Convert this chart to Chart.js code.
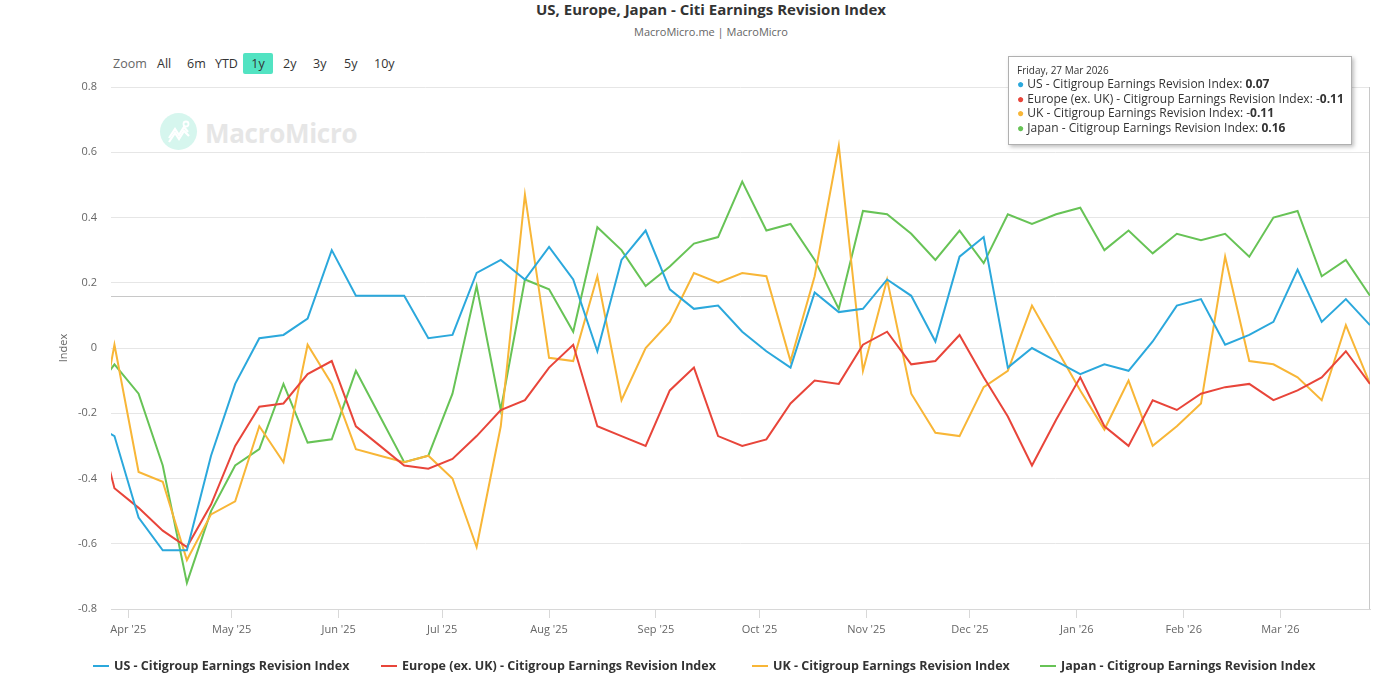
<!DOCTYPE html>
<html>
<head>
<meta charset="utf-8">
<title>US, Europe, Japan - Citi Earnings Revision Index</title>
<script src="https://cdn.jsdelivr.net/npm/chart.js@4.4.1/dist/chart.umd.min.js"></script>
<style>
  body { margin: 0; background: #fff; font-family: "Open Sans", "Noto Sans", sans-serif; }
  #wrap { position: relative; width: 1400px; height: 681px; overflow: hidden; }
  #chart { position: absolute; left: 0; top: 0; z-index: 2; }
  .title { position: absolute; left: 0; top: 0; width: 1422px; text-align: center; font-size: 15px; font-weight: 700; color: #333; line-height: 18px; }
  .subtitle { position: absolute; left: 0; top: 24px; width: 1422px; text-align: center; font-size: 11px; color: #666; line-height: 16px; }
  .btn { position: absolute; top: 55px; font-size: 12.5px; line-height: 18px; color: #333; }
  .btn.label { color: #666; }
  .btn.on { background: #52e3c2; border-radius: 2px; width: 30px; height: 21px; top: 53px; text-align: center; line-height: 21px; }
  .wm-logo { position: absolute; left: 160px; top: 113px; width: 37px; height: 37px; border-radius: 50%; background: #d6f6ee; z-index: 1; }
  .wm-text { position: absolute; left: 205px; top: 115px; font-size: 26px; font-weight: 700; color: #e6e6e6; z-index: 1; letter-spacing: -0.3px; }
  #tip { position: absolute; left: 1008px; top: 56px; width: 344px; height: 89px; box-sizing: border-box; background: #fff; border: 1px solid #b0b0b0; box-shadow: 2px 2px 4px rgba(0,0,0,0.25); padding: 6px 8px; z-index: 3; color: #333; }
  #tip .date { font-size: 10px; line-height: 14px; }
  #tip .row { font-size: 12px; line-height: 14.6px; white-space: nowrap; }
  #legend { position: absolute; top: 657px; left: 0; width: 1400px; height: 20px; z-index: 3; }
  .leg { position: absolute; top: 0; display: flex; align-items: center; white-space: nowrap; font-size: 12.5px; font-weight: 700; color: #333; line-height: 18px; }
  .leg i { display: inline-block; width: 16px; height: 2px; margin-right: 5px; }
</style>
</head>
<body>
<div id="wrap">
  <div class="title">US, Europe, Japan - Citi Earnings Revision Index</div>
  <div class="subtitle">MacroMicro.me | MacroMicro</div>
  <span class="btn label" style="left:113px">Zoom</span>
  <span class="btn" style="left:157px">All</span>
  <span class="btn" style="left:187px">6m</span>
  <span class="btn" style="left:215px">YTD</span>
  <span class="btn on" style="left:243px">1y</span>
  <span class="btn" style="left:283px">2y</span>
  <span class="btn" style="left:313px">3y</span>
  <span class="btn" style="left:344px">5y</span>
  <span class="btn" style="left:374px">10y</span>
  <div class="wm-logo">
    <svg width="37" height="37" viewBox="0 0 37 37"><polyline points="9,25 15,16 19,22 24,14 28,19" fill="none" stroke="#fff" stroke-width="2.2"/><polyline points="9,29 15,20 19,26 24,18 29,23" fill="none" stroke="#fff" stroke-width="2.2"/><circle cx="26" cy="11" r="2.5" fill="none" stroke="#fff" stroke-width="1.8"/></svg>
  </div>
  <div class="wm-text">MacroMicro</div>
  <canvas id="chart" width="1400" height="681"></canvas>
  <div id="tip"></div>
  <div id="legend"></div>
</div>
<script>
// weekly observations (Fridays); the first one sits just left of the visible 1y window
const dates = [
  '2025-03-21', '2025-03-28', '2025-04-04', '2025-04-11', '2025-04-18', '2025-04-25',
  '2025-05-02', '2025-05-09', '2025-05-16', '2025-05-23', '2025-05-30',
  '2025-06-06', '2025-06-13', '2025-06-20', '2025-06-27',
  '2025-07-04', '2025-07-11', '2025-07-18', '2025-07-25',
  '2025-08-01', '2025-08-08', '2025-08-15', '2025-08-22', '2025-08-29',
  '2025-09-05', '2025-09-12', '2025-09-19', '2025-09-26',
  '2025-10-03', '2025-10-10', '2025-10-17', '2025-10-24', '2025-10-31',
  '2025-11-07', '2025-11-14', '2025-11-21', '2025-11-28',
  '2025-12-05', '2025-12-12', '2025-12-19', '2025-12-26',
  '2026-01-02', '2026-01-09', '2026-01-16', '2026-01-23', '2026-01-30',
  '2026-02-06', '2026-02-13', '2026-02-20', '2026-02-27',
  '2026-03-06', '2026-03-13', '2026-03-20', '2026-03-27'
];
const usValues = [
  -0.23, -0.27, -0.52, -0.62, -0.62, -0.33,
  -0.11, 0.03, 0.04, 0.09, 0.30,
  0.16, 0.16, 0.16, 0.03,
  0.04, 0.23, 0.27, 0.21,
  0.31, 0.21, -0.01, 0.27, 0.36,
  0.18, 0.12, 0.13, 0.05,
  -0.01, -0.06, 0.17, 0.11, 0.12,
  0.21, 0.16, 0.02, 0.28,
  0.34, -0.06, 0.00, -0.04,
  -0.08, -0.05, -0.07, 0.02, 0.13,
  0.15, 0.01, 0.04, 0.08,
  0.24, 0.08, 0.15, 0.07
];
const europeValues = [
  -0.14, -0.43, -0.49, -0.56, -0.61, -0.48,
  -0.30, -0.18, -0.17, -0.08, -0.04,
  -0.24, -0.30, -0.36, -0.37,
  -0.34, -0.27, -0.19, -0.16,
  -0.06, 0.01, -0.24, -0.27, -0.30,
  -0.13, -0.06, -0.27, -0.30,
  -0.28, -0.17, -0.10, -0.11, 0.01,
  0.05, -0.05, -0.04, 0.04,
  -0.09, -0.21, -0.36, -0.22,
  -0.09, -0.24, -0.30, -0.16, -0.19,
  -0.14, -0.12, -0.11, -0.16,
  -0.13, -0.09, -0.01, -0.11
];
const ukValues = [
  -0.39, 0.01, -0.38, -0.41, -0.65, -0.51,
  -0.47, -0.24, -0.35, 0.01, -0.11,
  -0.31, -0.33, -0.35, -0.33,
  -0.40, -0.61, -0.24, 0.47,
  -0.03, -0.04, 0.22, -0.16, 0.00,
  0.08, 0.23, 0.20, 0.23,
  0.22, -0.04, 0.22, 0.62, -0.07,
  0.21, -0.14, -0.26, -0.27,
  -0.12, -0.07, 0.13, 0.00,
  -0.13, -0.25, -0.10, -0.30, -0.24,
  -0.17, 0.28, -0.04, -0.05,
  -0.09, -0.16, 0.07, -0.11
];
const japanValues = [
  -0.15, -0.05, -0.14, -0.36, -0.72, -0.50,
  -0.36, -0.31, -0.11, -0.29, -0.28,
  -0.07, -0.21, -0.35, -0.33,
  -0.14, 0.19, -0.19, 0.21,
  0.18, 0.05, 0.37, 0.30, 0.19,
  0.25, 0.32, 0.34, 0.51,
  0.36, 0.38, 0.27, 0.12, 0.42,
  0.41, 0.35, 0.27, 0.36,
  0.26, 0.41, 0.38, 0.41,
  0.43, 0.30, 0.36, 0.29, 0.35,
  0.33, 0.35, 0.28, 0.40,
  0.42, 0.22, 0.27, 0.16
];
const seriesNames = [
  'US - Citigroup Earnings Revision Index',
  'Europe (ex. UK) - Citigroup Earnings Revision Index',
  'UK - Citigroup Earnings Revision Index',
  'Japan - Citigroup Earnings Revision Index'
];
const tickDates = [
  '2025-04-01', '2025-05-01', '2025-06-01', '2025-07-01', '2025-08-01', '2025-09-01',
  '2025-10-01', '2025-11-01', '2025-12-01', '2026-01-01', '2026-02-01', '2026-03-01'
];
const tickLabels = [
  "Apr '25", "May '25", "Jun '25", "Jul '25", "Aug '25", "Sep '25",
  "Oct '25", "Nov '25", "Dec '25", "Jan '26", "Feb '26", "Mar '26"
];
const rangeStart = '2025-03-27';
const rangeEnd = '2026-03-27';

const colors = ['#2ba8dc', '#e8453a', '#f8b637', '#67c356'];
const allValues = [usValues, europeValues, ukValues, japanValues];

const dayNum = s => Date.parse(s + 'T00:00:00Z') / 86400000;
const toPoints = vals => vals.map((v, i) => ({ x: dayNum(dates[i]), y: v }));

// highcharts-style crosshair at the hovered (last) point
const crosshair = {
  id: 'crosshair',
  beforeDatasetsDraw(chart) {
    const { ctx, chartArea, scales } = chart;
    const px = Math.round(scales.x.getPixelForValue(dayNum(dates[dates.length - 1]))) - 0.5;
    const py = Math.round(scales.y.getPixelForValue(japanValues[japanValues.length - 1])) + 0.5;
    ctx.save();
    ctx.strokeStyle = '#c8c8c8';
    ctx.lineWidth = 1;
    ctx.beginPath();
    ctx.moveTo(chartArea.left, py);
    ctx.lineTo(chartArea.right, py);
    ctx.moveTo(px, chartArea.top);
    ctx.lineTo(px, chartArea.bottom);
    ctx.stroke();
    ctx.restore();
  }
};

new Chart(document.getElementById('chart'), {
  type: 'line',
  data: {
    datasets: allValues.map((vals, k) => ({
      label: seriesNames[k],
      data: toPoints(vals),
      borderColor: colors[k],
      backgroundColor: colors[k],
      borderWidth: 2,
      pointRadius: 0,
      tension: 0,
      fill: false,
      clip: 0
    }))
  },
  options: {
    responsive: false,
    animation: false,
    layout: { padding: { top: 87, right: 30, bottom: 32, left: 0 } },
    plugins: {
      legend: { display: false },
      tooltip: { enabled: false }
    },
    scales: {
      x: {
        type: 'linear',
        min: dayNum(rangeStart),
        max: dayNum(rangeEnd),
        afterBuildTicks: s => { s.ticks = tickDates.map(d => ({ value: dayNum(d) })); },
        afterFit: s => { s.height = 40; },
        ticks: {
          callback: (v, i) => tickLabels[i],
          autoSkip: false,
          maxRotation: 0,
          padding: 5,
          color: '#666',
          font: { size: 11, family: '"Open Sans", sans-serif' }
        },
        grid: { drawOnChartArea: false, tickLength: 9, color: '#d8d8d8' },
        border: { color: '#d8d8d8' }
      },
      y: {
        min: -0.8,
        max: 0.8,
        afterFit: s => { s.width = 111; },
        ticks: {
          stepSize: 0.2,
          callback: v => String(+v.toFixed(1)),
          padding: 14,
          color: '#666',
          font: { size: 11, family: '"Open Sans", sans-serif' }
        },
        grid: { color: '#e6e6e6', drawTicks: false },
        border: { display: false },
        title: {
          display: true,
          text: 'Index',
          color: '#666',
          font: { size: 11, family: '"Open Sans", sans-serif' },
          padding: { top: 57, bottom: 0 }
        }
      }
    }
  },
  plugins: [crosshair]
});

// tooltip box for the last date
const last = dates.length - 1;
const tipDate = new Date(dates[last] + 'T00:00:00Z').toLocaleDateString('en-GB', { weekday: 'long', day: 'numeric', month: 'short', year: 'numeric', timeZone: 'UTC' });
const fmt = v => v < 0 ? '-<b>' + Math.abs(v).toFixed(2) + '</b>' : '<b>' + v.toFixed(2) + '</b>';
document.getElementById('tip').innerHTML =
  '<div class="date">' + tipDate.replace(' ', ', ').replace(',,', ',') + '</div>' +
  allValues.map((vals, k) => '<div class="row"><span style="color:' + colors[k] + '">\u25CF</span> ' + seriesNames[k] + ': ' + fmt(vals[last]) + '</div>').join('');

const legendLefts = [93, 381, 752, 1040];
document.getElementById('legend').innerHTML = seriesNames.map((n, k) =>
  '<div class="leg" style="left:' + legendLefts[k] + 'px"><i style="background:' + colors[k] + '"></i>' + n + '</div>').join('');
</script>
</body>
</html>
